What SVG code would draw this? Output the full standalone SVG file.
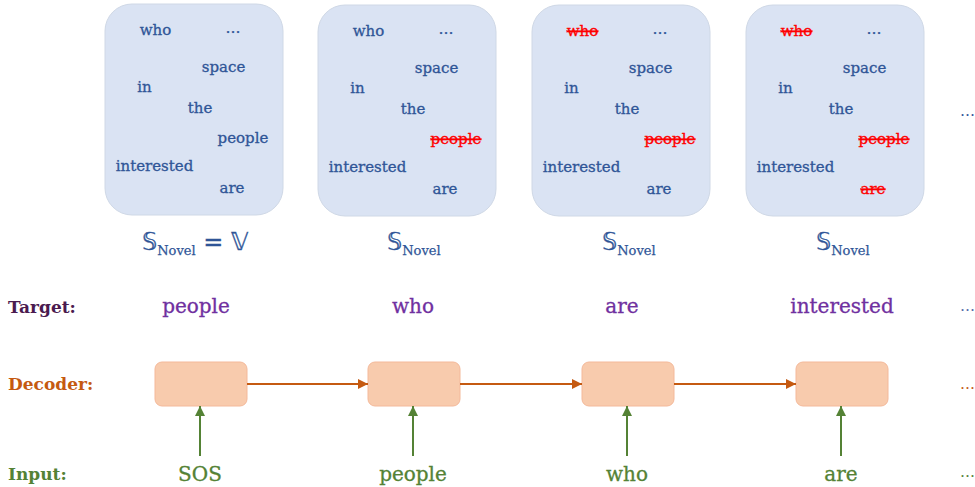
<svg xmlns="http://www.w3.org/2000/svg" width="975" height="487" viewBox="0 0 975 487">
<style>
.box{fill:#dae3f3;stroke:#cfd8e6;stroke-width:1}
.w{font-family:"DejaVu Serif","Liberation Serif",serif;font-size:15px;fill:#2f5597;stroke:#2f5597;stroke-width:0.3;text-anchor:middle}
.x{fill:#ff0000;stroke:#ff0000;text-decoration:line-through}
.sub{font-family:"DejaVu Serif","Liberation Serif",serif;fill:#2f5597;stroke:#2f5597;stroke-width:0.25}
.ds{font-family:"DejaVu Sans","DejaVu Serif",sans-serif;font-size:24px;fill:#2f5597;stroke:#2f5597;stroke-width:0.3}
.lab{font-family:"DejaVu Serif","Liberation Serif",serif;font-size:17px;font-weight:bold}
.tw{font-family:"DejaVu Serif","Liberation Serif",serif;font-size:20px;fill:#7030a0;stroke:#7030a0;stroke-width:0.3;text-anchor:middle}
.iw{font-family:"DejaVu Serif","Liberation Serif",serif;font-size:20px;fill:#548235;stroke:#548235;stroke-width:0.3;text-anchor:middle}
.dec{fill:#f8cbad;stroke:#f4b99a;stroke-width:1}
.oa{stroke:#c55a11;stroke-width:2;fill:none}
.ga{stroke:#548235;stroke-width:2;fill:none}
.dots{font-family:"DejaVu Serif",serif;font-size:15px}
</style>
<defs>
<marker id="ao" viewBox="0 0 10 10" refX="10" refY="5" markerWidth="5" markerHeight="5" orient="auto" markerUnits="strokeWidth"><path d="M0,0 L10,5 L0,10 z" fill="#c55a11"/></marker>
<marker id="ag" viewBox="0 0 10 10" refX="10" refY="5" markerWidth="5" markerHeight="5" orient="auto" markerUnits="strokeWidth"><path d="M0,0 L10,5 L0,10 z" fill="#548235"/></marker>
</defs>

<g id="set1" transform="translate(105,0)">
<rect class="box" x="0" y="4" width="178" height="211" rx="27"/>
<text class="w" x="50.5" y="35">who</text>
<text class="w" x="128" y="33">…</text>
<text class="w" x="118.5" y="72">space</text>
<text class="w" x="39.5" y="92">in</text>
<text class="w" x="95" y="113">the</text>
<text class="w" x="138" y="143">people</text>
<text class="w" x="49.5" y="171">interested</text>
<text class="w" x="127" y="193">are</text>
</g>
<g id="set2" transform="translate(318,1)">
<rect class="box" x="0" y="4" width="178" height="211" rx="27"/>
<text class="w" x="50.5" y="35">who</text>
<text class="w" x="128" y="33">…</text>
<text class="w" x="118.5" y="72">space</text>
<text class="w" x="39.5" y="92">in</text>
<text class="w" x="95" y="113">the</text>
<text class="w x" x="138" y="143">people</text>
<text class="w" x="49.5" y="171">interested</text>
<text class="w" x="127" y="193">are</text>
</g>
<g id="set3" transform="translate(532,1)">
<rect class="box" x="0" y="4" width="178" height="211" rx="27"/>
<text class="w x" x="50.5" y="35">who</text>
<text class="w" x="128" y="33">…</text>
<text class="w" x="118.5" y="72">space</text>
<text class="w" x="39.5" y="92">in</text>
<text class="w" x="95" y="113">the</text>
<text class="w x" x="138" y="143">people</text>
<text class="w" x="49.5" y="171">interested</text>
<text class="w" x="127" y="193">are</text>
</g>
<g id="set4" transform="translate(746,1)">
<rect class="box" x="0" y="4" width="178" height="211" rx="27"/>
<text class="w x" x="50.5" y="35">who</text>
<text class="w" x="128" y="33">…</text>
<text class="w" x="118.5" y="72">space</text>
<text class="w" x="39.5" y="92">in</text>
<text class="w" x="95" y="113">the</text>
<text class="w x" x="138" y="143">people</text>
<text class="w" x="49.5" y="171">interested</text>
<text class="w x" x="127" y="193">are</text>
</g>

<g id="setlabels">
<text x="142" y="250"><tspan class="ds">𝕊</tspan><tspan class="sub" font-size="13" dy="5">Novel</tspan><tspan class="ds" dy="-5"> = 𝕍</tspan></text>
<text x="387" y="250"><tspan class="ds">𝕊</tspan><tspan class="sub" font-size="13" dy="5">Novel</tspan></text>
<text x="602" y="250"><tspan class="ds">𝕊</tspan><tspan class="sub" font-size="13" dy="5">Novel</tspan></text>
<text x="816" y="250"><tspan class="ds">𝕊</tspan><tspan class="sub" font-size="13" dy="5">Novel</tspan></text>
</g>

<g id="rowlabels">
<text class="lab" x="8" y="313" fill="#4b1a4f">Target:</text>
<text class="lab" x="8" y="390" fill="#c55a11">Decoder:</text>
<text class="lab" x="8" y="480" fill="#548235">Input:</text>
</g>

<g id="targets">
<text class="tw" x="196" y="313">people</text>
<text class="tw" x="413" y="313">who</text>
<text class="tw" x="622" y="313">are</text>
<text class="tw" x="842" y="313">interested</text>
</g>

<g id="dec1"><rect class="dec" x="155" y="362" width="92" height="44" rx="7"/></g>
<g id="dec2"><rect class="dec" x="368" y="362" width="92" height="44" rx="7"/></g>
<g id="dec3"><rect class="dec" x="582" y="362" width="92" height="44" rx="7"/></g>
<g id="dec4"><rect class="dec" x="796" y="362" width="92" height="44" rx="7"/></g>

<g id="inputs">
<text class="iw" x="200" y="481">SOS</text>
<text class="iw" x="413" y="481">people</text>
<text class="iw" x="627" y="481">who</text>
<text class="iw" x="841" y="481">are</text>
</g>

<g id="connectors">
<line class="oa" x1="247" y1="384" x2="368" y2="384" marker-end="url(#ao)"/>
<line class="oa" x1="460" y1="384" x2="582" y2="384" marker-end="url(#ao)"/>
<line class="oa" x1="674" y1="384" x2="796" y2="384" marker-end="url(#ao)"/>
<line class="ga" x1="200" y1="456" x2="200" y2="406" marker-end="url(#ag)"/>
<line class="ga" x1="413" y1="456" x2="413" y2="406" marker-end="url(#ag)"/>
<line class="ga" x1="627" y1="456" x2="627" y2="406" marker-end="url(#ag)"/>
<line class="ga" x1="841" y1="456" x2="841" y2="406" marker-end="url(#ag)"/>
</g>

<g id="ellipses">
<text class="dots" x="960" y="116" fill="#2f5597">…</text>
<text class="dots" x="960" y="311" fill="#4f6aa8">…</text>
<text class="dots" x="960" y="389" fill="#c55a11">…</text>
<text class="dots" x="960" y="477" fill="#548235">…</text>
</g>
</svg>
